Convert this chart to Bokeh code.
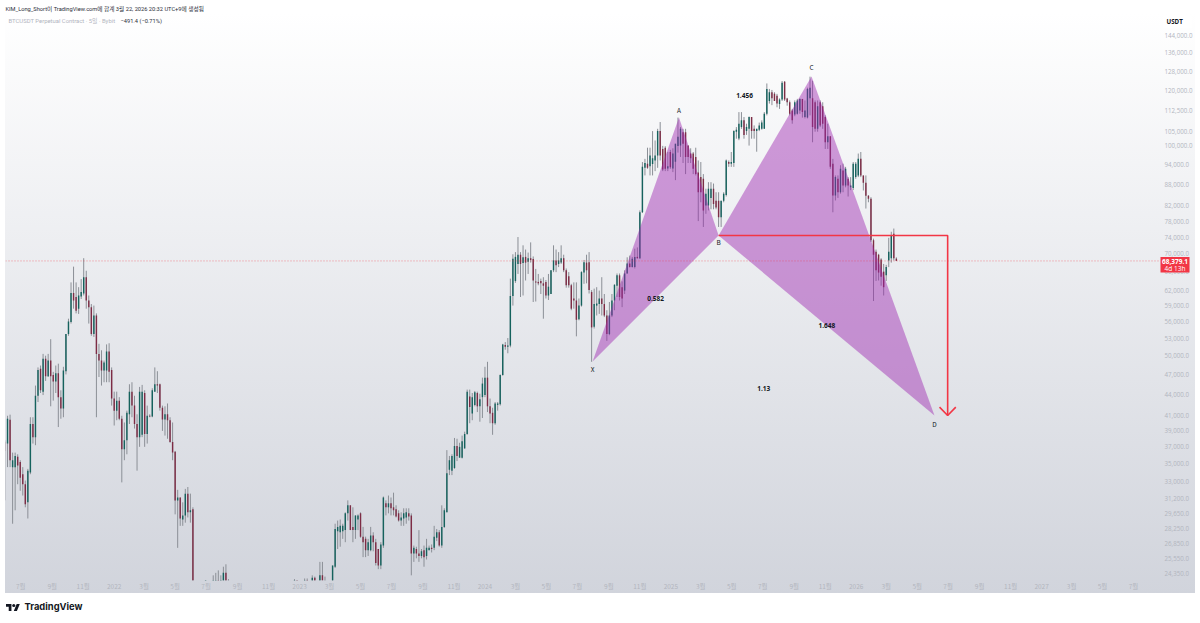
import pandas as pd
from bokeh.plotting import figure
from bokeh.models import (ColumnDataSource, FixedTicker, NumeralTickFormatter, Label, Title,
                          BoxAnnotation, Range1d)
from bokeh.core.properties import value
from bokeh.embed import file_html
from bokeh.resources import INLINE

opens = [37600,37400,40450,34600,34600,35800,35200,33800,32700,30800,
34000,39900,38200,43800,47900,44400,49500,46700,49200,46900,
45900,47200,43600,42000,47500,53700,55900,61500,60700,58400,
60800,61400,64800,60000,58700,53700,57100,50300,49200,47600,
47600,50700,47700,43400,41700,43100,40600,36700,37800,41200,
44400,42400,39900,38200,38500,44200,38600,41000,40900,44400,
45500,45500,42100,40500,41200,40400,37600,36400,31000,31300,
29100,29500,31700,29800,30100,20700,21300,20900,21200,22600,
23000,20800,21900,23100,23500,23000,23700,24400,23800,21600,
20100,19300,20000,21400,19000,19400,19100,19600,19000,19300,
20100,20600,20800,16600,16700,16400,17100,17300,16800,16600,
16600,16900,19200,21100,23000,23400,22800,21800,22900,23500,
23200,22300,24000,23000,22100,24200,23800,23300,23100,23000,
24900,28000,27900,28000,28100,29700,30500,28400,28100,29100,
29700,27500,27300,26300,26300,27600,27000,26400,25000,26700,
30700,30300,30700,30300,30100,29700,29000,29200,29300,29700,
29500,26000,26400,26000,25800,26300,25800,26300,26500,26500,
27400,27900,26700,28400,29800,34300,34200,34500,37100,35700,
35700,36800,38600,43700,41300,42500,44200,42300,43600,43900,
46500,42300,41400,40000,42500,42600,46900,51800,51500,51700,
60900,64000,67700,69800,67900,69300,68200,69000,68800,63900,
63800,64000,63500,63800,61000,61300,66300,68500,67700,68000,
69000,66300,65000,63100,60400,60000,56400,59000,65800,68000,
68100,61700,55000,59000,59300,60400,59300,57100,53700,57100,
60000,63000,65200,62700,62000,65600,67800,67000,67000,69300,
69000,80300,93000,94300,93500,94200,95300,96900,105000,99000,
99400,92800,98000,92800,94900,100000,100100,104600,104600,100100,
97500,97500,96400,91600,90200,89700,82100,82100,84200,86800,
83400,83400,79000,83400,85000,94800,94300,94500,104800,102500,
106400,108800,105000,105800,110000,105800,105000,105500,105800,105800,
111200,116000,119400,118800,118000,114800,116600,123600,116900,115500,
112400,110900,111200,112400,116800,110000,109800,117000,117000,115500,
105800,115500,114000,110000,101200,103200,94300,84900,89700,85800,
92200,87700,89700,87200,87000,90200,90700,95800,90700,
88500,84800,84000,73200,70500,69800,68700,66000,65200,68500,69000,74800,68900]

highs = [37800,41000,41150,36300,36300,36100,35400,34600,33100,34400,
40800,40800,45300,48100,48400,50300,50000,50300,52800,47400,
48400,48700,44600,48200,53700,56500,63700,67100,63700,62700,
64400,69000,66200,61000,59300,59000,57500,52000,50900,49200,
51900,52100,48100,44400,44400,43600,41000,40100,41700,45500,
45800,43800,41200,45100,45400,44600,42400,41200,44900,48100,
47500,45600,42400,42300,42700,40800,40100,36500,32100,31300,
30800,32200,32400,31700,30300,22000,22500,21800,23000,23800,
23600,22400,24200,24400,24600,24200,24900,25100,23900,21900,
20800,20400,22700,21800,19800,20200,19900,20000,19700,20400,
21000,21000,21400,17100,16900,17200,18400,17500,17000,16900,
17000,19400,21400,23300,23900,23800,23300,23100,23950,23950,
23700,24200,24100,23600,25300,25300,24100,23700,23600,25000,
28700,29000,29100,28700,29800,31000,30500,30300,29500,29600,
29800,28400,27500,27300,28400,27900,27300,26400,27000,31400,
31000,31500,31300,31800,30500,30000,29800,30200,30200,30200,
29700,26700,26600,28100,26400,26700,27300,26700,26800,28500,
28200,28100,30500,30200,36600,35900,36100,38100,38000,37500,
38400,38900,44700,44700,44200,44500,44400,44100,46500,48200,
49000,43400,42100,42900,42900,47000,52000,52300,53000,64500,
69900,70400,74000,70400,72000,71000,70300,72700,69400,66600,
65500,64500,64800,64200,65500,66300,72000,71000,70400,72000,
69800,66700,65900,63400,63700,63700,60400,66100,68600,69800,
70400,62100,62400,62700,62000,64800,61300,58100,59700,61300,
63300,65600,65600,63900,66300,69200,69600,69300,71200,71500,
80800,94800,95800,99400,99400,105000,101800,105800,108200,100000,
99900,98000,98700,99200,100700,109800,106400,105800,105800,100100,
99200,98000,99400,95300,94800,91100,86800,88700,88700,88300,
85800,85800,83400,85800,95600,95300,98000,105300,106400,111800,
111800,110000,107600,110200,110000,107000,105800,108000,108800,111800,
122900,120700,120300,119400,118750,117000,123900,123900,117200,116200,
113000,116200,116800,117000,116800,116200,121200,125700,124000,116200,
116200,116200,115500,110600,107600,103200,95800,90700,90700,93800,
94300,93300,90200,90200,94800,94800,97500,98000,90700,
90700,85000,84400,73600,71000,70000,69000,67700,67500,73800,75300,76100,69200]

lows = [31000,34600,34600,28700,30000,32700,32000,31500,30300,29200,
33800,37400,37200,42900,44200,43900,46000,46600,42300,43100,
44200,39500,40600,40800,47000,53400,55600,58400,57500,57400,
60300,61000,58400,55600,53400,53200,40800,46600,45300,45800,
45800,45800,42400,39700,40400,40400,32900,35400,36100,39900,
40800,39300,34200,37000,38200,37000,37400,40800,40800,44400,
44200,41700,39000,38400,38000,37500,35400,29600,26500,28500,
28500,28800,29300,28800,20000,19500,20500,20000,20800,21800,
20300,20400,21500,22600,22800,22500,23200,23400,21000,19800,
18800,18600,19500,18600,18100,18500,18900,18700,18900,18800,
20000,20200,15600,15800,16200,16300,16800,16400,16300,16400,
16500,16800,19000,20800,22300,22500,21400,21400,22700,22600,
22000,22100,22800,21000,21800,23800,23000,22500,22200,22800,
24800,26400,26600,27300,27000,29000,28100,27000,27300,28100,
27400,25700,25700,25800,26200,26200,25000,24700,24700,26500,
29500,29700,29500,29500,29300,28900,28500,28500,28700,29000,
24200,25300,25600,25300,25600,24900,25500,26300,26100,26300,
27100,26600,26500,28300,29800,33700,33700,34400,35300,35700,
35600,36800,38500,40000,40400,42300,41500,40200,40700,43600,
41500,40000,38500,39800,41700,42400,46800,51000,50400,51400,
59000,63600,65500,60700,61000,64100,65500,68000,59700,59800,
63100,61300,56500,60400,60100,61300,65900,65900,67000,67700,
65900,62600,62600,58100,58400,53300,56200,58800,63400,63500,
61400,49000,54700,57100,57400,57100,56800,52500,53500,56800,
58100,60700,60000,58700,61300,65600,66900,66900,66700,68900,
68800,80100,90700,92700,90700,90700,92000,93000,95300,92000,
92000,92000,92700,91700,89300,97800,96400,94500,91100,94500,
94500,91100,90700,78000,83000,76500,79900,80800,81100,81100,
81100,76500,76500,83000,84600,93300,93300,93300,102400,101900,
105800,102400,103700,100100,102400,102400,98100,105000,105500,105800,
110600,115000,114400,116000,113600,113000,116000,116000,114200,110600,
107600,110300,110900,111200,109800,109500,109500,110600,101200,104800,
104800,106400,105800,99000,99000,92700,80300,83500,84200,85400,
85800,87200,84600,86400,86400,89700,90200,90200,86300,
81300,83000,72800,59900,64000,64100,63000,61000,64000,67000,68000,68500,68400]

closes = [36500,40600,35400,35400,35900,34800,33400,32700,30600,34200,
39900,38200,43800,47700,44600,49500,46700,49200,46700,45900,
47200,43600,42000,47600,53700,56000,61500,60000,58000,61000,
61700,64800,60000,58700,53700,57100,50300,49200,47600,48900,
50700,47400,43400,41700,43100,40600,36700,37800,41400,44400,
42400,39900,38200,44400,44400,38600,41000,40900,44600,45500,
45300,42100,40500,41200,40400,37600,36300,31000,31300,29200,
29500,31700,29800,30000,20700,21300,20900,21200,22600,23000,
20800,21900,23100,23500,23000,23700,24400,23800,21600,20100,
19300,20000,21400,19000,19400,19100,19600,19000,19300,20100,
20600,20800,16600,16700,16400,17100,17300,16800,16600,16600,
16900,19200,21100,23000,23400,22800,21800,22900,23500,23200,
22300,24000,23000,22100,24200,23800,23300,23100,23000,25000,
28200,28400,28500,28500,29700,30500,28100,28100,29500,29500,
27500,27000,26300,27000,27600,27000,25200,25000,26800,31300,
30300,30700,30200,30000,29400,29000,29300,29700,29800,29400,
26000,26500,26000,25800,26200,25700,26500,26500,26400,27500,
27900,26700,28400,30000,33900,35400,35900,37100,35900,37000,
37700,38600,44400,42200,43600,44300,42300,43300,45600,46500,
42300,41300,40000,42700,42700,46900,51900,51500,51700,60900,
68900,69300,69800,67700,69200,68000,69000,68600,64100,63700,
63500,63500,63000,61000,62800,66300,68500,67400,68500,69000,
66300,63100,63100,58400,60000,56300,59000,65900,68100,66300,
62100,54900,59300,59400,60400,59300,57100,53700,57100,60000,
63200,65200,60700,60400,65600,67800,67000,68900,69300,69000,
80300,93300,94500,93000,96900,96000,96900,105000,96900,92500,
92700,93500,93200,97500,100700,103100,105800,100700,96400,96400,
96000,92700,91100,85800,85800,80800,85400,86800,86800,82500,
81600,79000,83400,85400,95300,94300,94800,105000,105500,107600,
108800,103700,106400,110000,105000,105000,105800,107000,108000,111200,
120700,119400,117000,116000,115000,116600,123200,116600,115500,111200,
108800,115500,116200,116800,111800,112400,120700,121200,106400,105800,
114000,107000,107600,101200,103200,93300,84900,90200,85800,92700,
87700,92700,87700,87700,94300,94300,95800,90700,88500,
84800,84000,73200,69800,66300,65800,64900,62700,67000,70500,74500,69000,68379]

last_bar = "2026-03-21"
bar_dates = pd.date_range(end=last_bar, periods=len(opens), freq="5D")

price_ticks = [144000,136000,128000,120000,112500,105000,100000,94000,88000,82000,78000,74000,70000,
               66000,62000,59000,56000,53000,50000,47000,44000,41000,39000,37000,35000,33000,31200,
               29650,28250,26850,25550,24350]
time_tick_dates = ["2021-07-01","2021-09-01","2021-11-01","2022-01-01","2022-03-01","2022-05-01","2022-07-01",
                   "2022-09-01","2022-11-01","2023-01-01","2023-03-01","2023-05-01","2023-07-01","2023-09-01",
                   "2023-11-01","2024-01-01","2024-03-01","2024-05-01","2024-07-01","2024-09-01","2024-11-01",
                   "2025-01-01","2025-03-01","2025-05-01","2025-07-01","2025-09-01","2025-11-01","2026-01-01",
                   "2026-03-01","2026-05-01","2026-07-01","2026-09-01","2026-11-01","2027-01-01","2027-03-01",
                   "2027-05-01","2027-07-01"]
time_tick_labels = ["7월","9월","11월","2022","3월","5월","7월","9월","11월","2023","3월","5월","7월","9월",
                    "11월","2024","3월","5월","7월","9월","11월","2025","3월","5월","7월","9월","11월","2026",
                    "3월","5월","7월","9월","11월","2027","3월","5월","7월"]

xab_dates = ["2024-07-31","2025-01-17","2025-04-05"]
xab_prices = [49050,109800,74380]
bcd_dates = ["2025-04-05","2025-10-05","2026-06-04"]
bcd_prices = [74380,125800,41030]

arrow_dates = ["2025-04-05","2026-06-30","2026-06-30"]
arrow_prices = [74380,74380,41030]
head_dates = ["2026-06-14","2026-06-30","2026-07-16"]
head_prices = [42180,41030,42180]

point_names = ["X","A","B","C","D"]
point_dates = ["2024-07-31","2025-01-17","2025-04-05","2025-10-05","2026-06-04"]
point_prices = [49050,109800,74380,125800,41030]
point_offsets = [8,-8,7,-9,8]

ratio_names = ["0.582","1.456","1.648","1.13"]
ratio_dates = ["2024-12-02","2025-05-26","2025-11-04","2025-07-03"]
ratio_prices = [60400,118100,55240,44860]

last_price = 68379.1
last_line_dates = ["2021-06-01", "2027-08-20"]
GREEN, RED = "#15625d", "#7d2c45"
TICK = "#b2b5be"
FONT = "Noto Sans CJK KR"
TEXT_FONT = "Roboto, Noto Sans CJK KR"
W, H = 1200, 623
Y_LOW, Y_HIGH = 23791, 154860

ts = lambda d: pd.Timestamp(d).timestamp() * 1000

p = figure(width=W, height=H, output_backend="svg", toolbar_location=None,
           x_axis_type="datetime", y_axis_type="log", y_axis_location="right",
           x_range=Range1d(ts("2021-06-01"), ts("2027-10-29")),
           y_range=Range1d(Y_LOW, Y_HIGH),
           min_border_left=5, min_border_right=6, min_border_top=13, min_border_bottom=43,
           background_fill_alpha=0, border_fill_alpha=0, outline_line_color=None)
logo = ("url(\"data:image/svg+xml,%3Csvg xmlns='http://www.w3.org/2000/svg' viewBox='0 6 36 18'%3E"
        "%3Cpath fill='%23131722' d='M14 6H0v7h7v11h7V6zM28 24h-8l7.5-18h8L28 24z'/%3E"
        "%3Ccircle fill='%23131722' cx='20' cy='10' r='4'/%3E%3C/svg%3E\")")
p.styles = {"position": "absolute", "left": "0px", "top": "0px",
            "background-image": logo + ", linear-gradient(#ffffff, #d1d4dc)",
            "background-size": "14px 7px, 1190px 580px", "background-position": "6px 604px, 5px 13px",
            "background-repeat": "no-repeat, no-repeat"}
p.grid.visible = False

yax = p.yaxis[0]
yax.ticker = FixedTicker(ticks=price_ticks)
yax.formatter = NumeralTickFormatter(format="0,0.0")
yax.axis_line_color = None
yax.major_tick_line_color = None
yax.minor_tick_line_color = None
yax.major_tick_out = 0
yax.major_tick_in = 0
yax.major_label_text_color = TICK
yax.major_label_text_font = "Open Sans"
yax.major_label_text_font_size = "6.2px"
yax.major_label_standoff = -30

xax = p.xaxis[0]
time_ticks = [ts(d) for d in time_tick_dates]
xax.ticker = FixedTicker(ticks=time_ticks)
xax.major_label_overrides = {t: l for t, l in zip(time_ticks, time_tick_labels)}
xax.axis_line_color = None
xax.major_tick_line_color = None
xax.minor_tick_line_color = None
xax.major_tick_out = 0
xax.major_tick_in = 0
xax.major_label_text_color = TICK
xax.major_label_text_font = FONT
xax.major_label_text_font_size = "6.5px"
xax.major_label_standoff = 0

rows = [(d, o, h, l, c) for d, o, h, l, c in zip(bar_dates, opens, highs, lows, closes) if h >= Y_LOW]
src = ColumnDataSource(dict(x=[r[0] for r in rows], h=[r[2] for r in rows], l=[r[3] for r in rows],
                            top=[max(r[1], r[4]) for r in rows],
                            bottom=[min(r[1], r[4]) for r in rows],
                            color=[GREEN if r[4] >= r[1] else RED for r in rows]))
p.segment("x", "h", "x", "l", source=src, color="#8b8f96", line_width=1)
p.vbar(x="x", top="top", bottom="bottom", width=2.8 * 86400000, source=src,
       fill_color="color", line_color=None)

p.patch(pd.to_datetime(xab_dates), xab_prices, fill_color="#9c27b0", fill_alpha=0.46, line_color=None)
p.patch(pd.to_datetime(bcd_dates), bcd_prices, fill_color="#9c27b0", fill_alpha=0.46, line_color=None)

p.line(pd.to_datetime(last_line_dates), [last_price, last_price], line_color="#f23645", line_alpha=0.55,
       line_dash="1 2", line_width=1)

p.line(pd.to_datetime(arrow_dates), arrow_prices, line_color="#f23645", line_width=1.6)
p.line(pd.to_datetime(head_dates), head_prices, line_color="#f23645", line_width=1.6)

pts = ColumnDataSource(dict(x=pd.to_datetime(point_dates), y=point_prices, t=point_names, o=point_offsets))
p.text("x", "y", text="t", y_offset="o", source=pts, text_font=value(FONT), text_font_size="6.5px",
       text_color="#131722", text_align="center", text_baseline="middle")
rts = ColumnDataSource(dict(x=pd.to_datetime(ratio_dates), y=ratio_prices, t=ratio_names))
p.text("x", "y", text="t", source=rts, text_font=value("Open Sans"), text_font_size="6.5px",
       text_font_style="bold", text_color="#131722", text_align="center", text_baseline="middle")


def label(x, y, text, size, color, style="normal", align="left", font=FONT):
    p.add_layout(Label(x=x, y=y, x_units="canvas", y_units="canvas", text=text, text_font=font,
                       text_font_size=size, text_color=color, text_font_style=style, text_align=align,
                       text_baseline="middle"))


p.add_layout(Title(text="KIM_Long_Short이 TradingView.com에 합계 3월 22, 2026 20:32 UTC+9에 생성됨",
                   text_font=TEXT_FONT, text_font_size="5.7px", text_font_style="normal", text_color="#2a2e39",
                   align="left", standoff=3), "above")
label(8, 20, "BTCUSDT Perpetual Contract · 5일 · Bybit", "5.9px", "#b2b5be", font=TEXT_FONT)
label(120, 20, "−491.4 (−0.71%)", "5.7px", "#2a2e39", font=TEXT_FONT)

p.add_layout(BoxAnnotation(left=1162, right=1192, top=15, bottom=28, left_units="canvas",
                           right_units="canvas", top_units="canvas", bottom_units="canvas",
                           fill_color="#ffffff", fill_alpha=0.9, line_color=None))
label(1166, 21, "USDT", "6.2px", "#131722", "bold", font="Open Sans")
p.add_layout(BoxAnnotation(left=1160, right=1189, top=256.5, bottom=272, left_units="canvas",
                           right_units="canvas", top_units="canvas", bottom_units="canvas",
                           fill_color="#f23645", fill_alpha=1, line_color=None))
label(1174.5, 260.5, "68,379.1", "6.5px", "#ffffff", "bold", "center", "Open Sans")
label(1174.5, 268, "4d 13h", "6.5px", "#ffffff", "normal", "center", "Open Sans")

p.add_layout(Title(text="TradingView", text_font="Inter", text_font_size="9.4px", text_font_style="bold",
                   text_color="#131722", align="left", offset=19, standoff=11), "below")

open("out.html", "w").write(file_html(p, INLINE))
